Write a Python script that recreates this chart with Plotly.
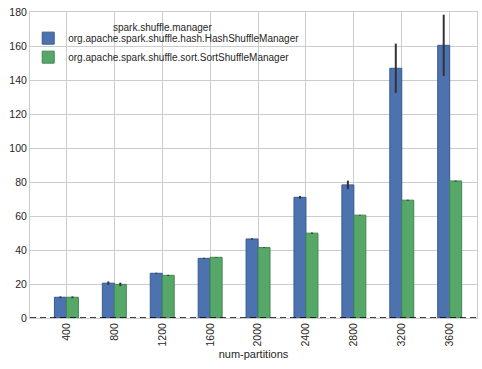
import plotly.graph_objects as go

categories = ["400", "800", "1200", "1600", "2000", "2400", "2800", "3200", "3600"]
hash_values = [12.2, 20.5, 26.3, 35.1, 46.5, 71.0, 78.3, 146.9, 160.4]
hash_errors = [0.5, 1.0, 0.3, 0.3, 0.4, 0.8, 2.5, 14.5, 18.0]
sort_values = [12.2, 19.8, 25.1, 35.7, 41.4, 49.9, 60.5, 69.3, 80.6]
sort_errors = [0.5, 1.0, 0.3, 0.2, 0.2, 0.4, 0.2, 0.3, 0.3]
series_names = ["org.apache.spark.shuffle.hash.HashShuffleManager",
                "org.apache.spark.shuffle.sort.SortShuffleManager"]
legend_title = "spark.shuffle.manager"
y_ticks = [0, 20, 40, 60, 80, 100, 120, 140, 160, 180]

idx = list(range(len(categories)))
fig = go.Figure()
fig.add_trace(go.Bar(
    x=idx, y=hash_values, name=series_names[0],
    marker=dict(color="#4C72B0", line=dict(color="#3b5a8c", width=1)),
    error_y=dict(type="data", array=hash_errors, color="#333333", thickness=2, width=0),
))
fig.add_trace(go.Bar(
    x=idx, y=sort_values, name=series_names[1],
    marker=dict(color="#55A868", line=dict(color="#428652", width=1)),
    error_y=dict(type="data", array=sort_errors, color="#333333", thickness=2, width=0),
))

fig.add_shape(type="line", xref="paper", yref="y", x0=0, x1=1, y0=0, y1=0,
              line=dict(color="black", width=1.5, dash="6px,4px"))

fig.add_annotation(text=legend_title, xref="paper", yref="paper", x=0.2975, y=0.948,
                   xanchor="center", yanchor="middle", showarrow=False,
                   font=dict(size=10, color="#262626"))

fig.update_layout(
    width=482, height=369,
    margin=dict(l=30, r=5, t=12, b=51),
    paper_bgcolor="white", plot_bgcolor="white",
    barmode="group", bargap=0.5, bargroupgap=0,
    font=dict(family="Liberation Sans, Arial, sans-serif", size=11, color="#262626"),
    showlegend=True,
    legend=dict(
        x=-0.004, y=0.962, xanchor="left", yanchor="top",
        bgcolor="rgba(0,0,0,0)", borderwidth=0,
        font=dict(size=10, color="#262626"),
    ),
    xaxis=dict(
        range=[-0.76, 8.57], automargin=False,
        tickmode="array", tickvals=idx, ticktext=categories,
        tickangle=-90, showgrid=True, gridcolor="#cccccc", gridwidth=1,
        showline=True, linecolor="#cccccc", mirror=True, ticks="", zeroline=False,
        tickfont=dict(size=10.5),
        title=dict(text="num-partitions", font=dict(size=11, color="#262626"), standoff=4),
    ),
    yaxis=dict(
        range=[0, 180], tickmode="array", tickvals=y_ticks, automargin=False,
        showgrid=True, gridcolor="#cccccc", gridwidth=1, tickfont=dict(size=10.5),
        showline=True, linecolor="#cccccc", mirror=True, ticks="", zeroline=False,
    ),
)

fig.write_html("out.html", config={"displayModeBar": False},
               post_script="document.body.style.margin='0';")
